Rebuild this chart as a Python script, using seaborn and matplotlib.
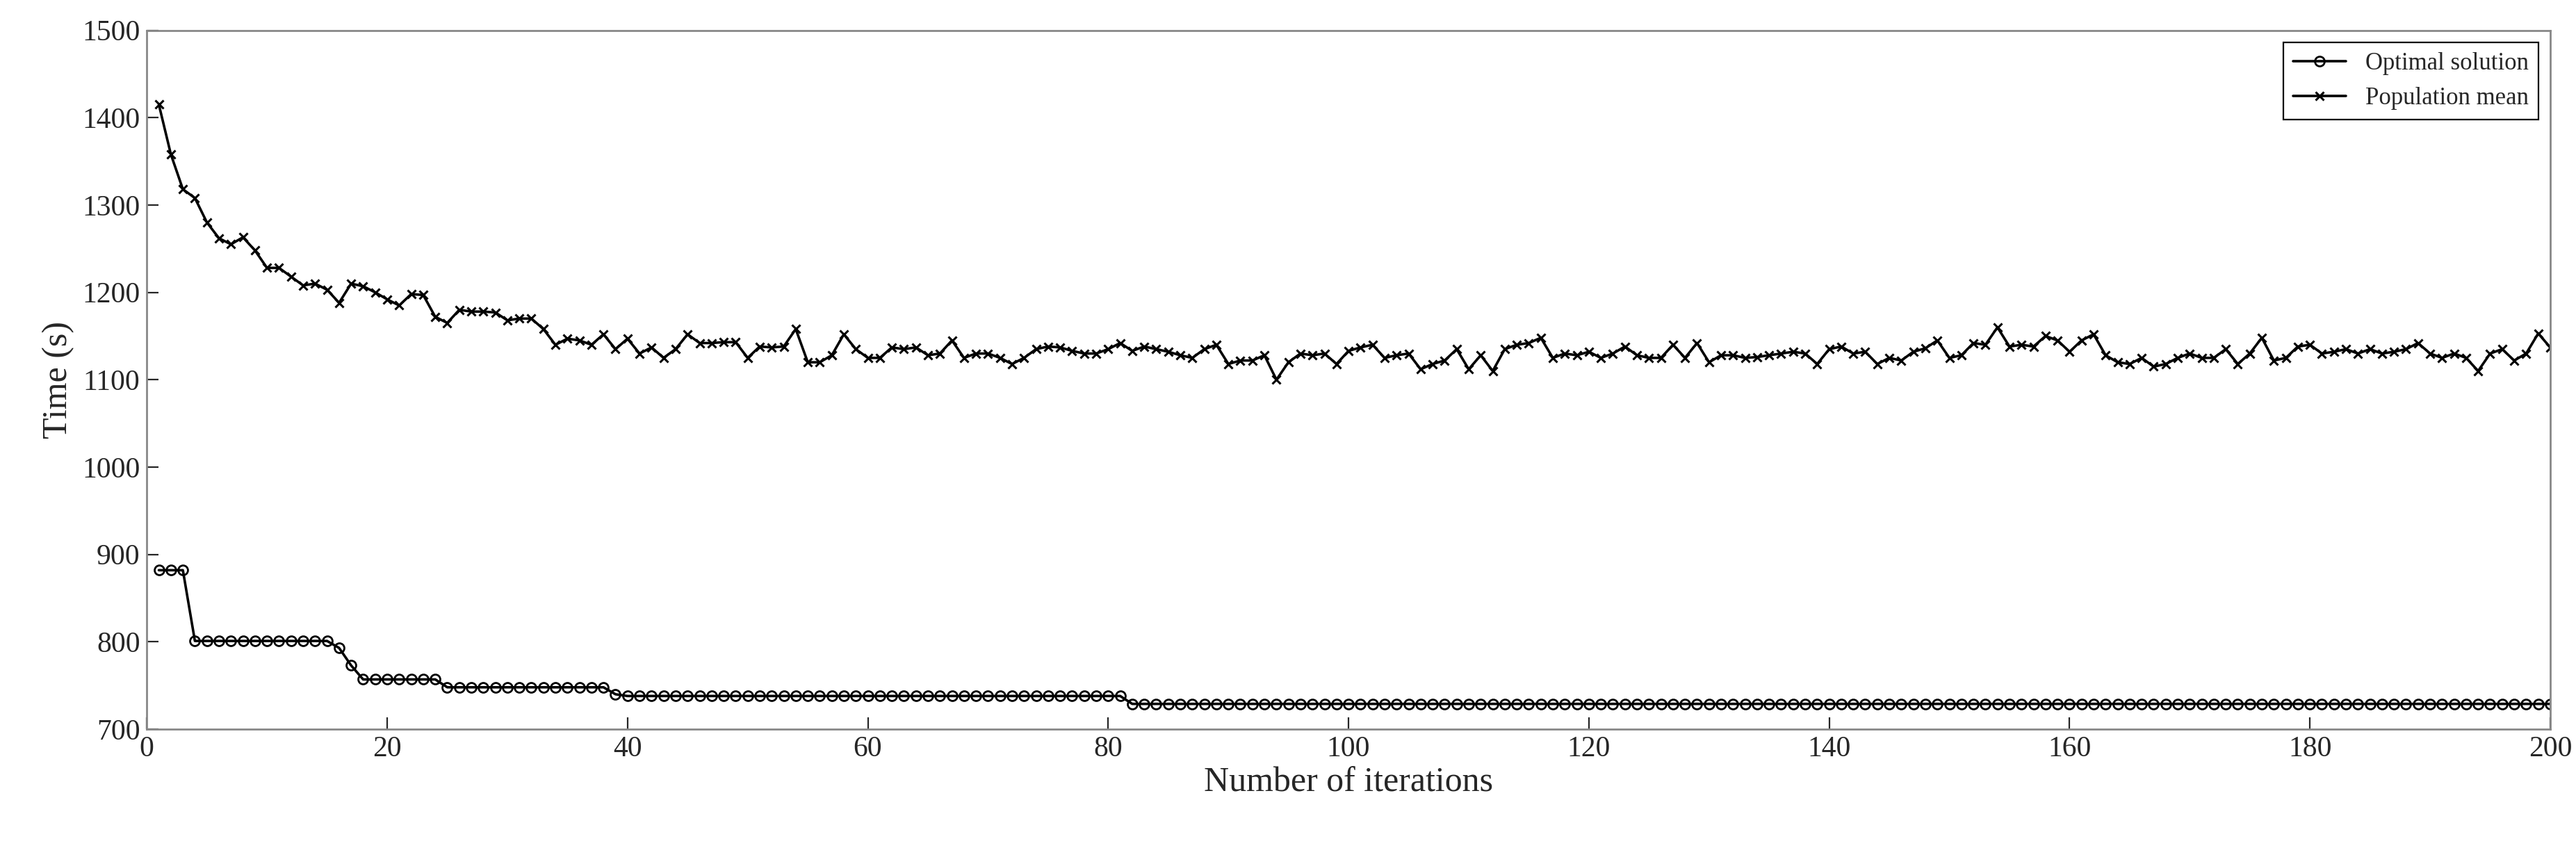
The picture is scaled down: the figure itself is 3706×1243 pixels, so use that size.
import numpy as np
import pandas as pd
import seaborn as sns
import matplotlib
matplotlib.use("Agg")
import matplotlib.pyplot as plt

iterations = list(range(1, 201))
optimal = [882]*3 + [801]*12 + [793, 773] + [757]*7 + [748]*14 + [740] + [738]*42 + [729]*119
population = [
1415,1358,1318,1308,1280,1262,1255,1263,1248,1228,1228,1218,1208,1210,1203,
1188,1210,1207,1200,1192,1185,1198,1197,1172,1165,1180,1178,1178,1177,1168,
1170,1170,1158,1140,1147,1145,1140,1152,1135,1147,1130,1137,1125,1135,1152,
1142,1142,1143,1143,1125,1138,1137,1138,1158,1120,1120,1128,1152,1135,1125,
1125,1137,1135,1137,1128,1130,1145,1125,1130,1130,1125,1118,1125,1135,1138,
1137,1133,1130,1130,1135,1142,1133,1138,1135,1132,1128,1125,1135,1140,1118,
1122,1122,1128,1100,1120,1130,1128,1130,1118,1133,1137,1140,1125,1128,1130,
1112,1118,1122,1135,1112,1128,1110,1135,1140,1142,1148,1125,1130,1128,1132,
1125,1130,1138,1128,1125,1125,1140,1125,1142,1120,1128,1128,1125,1126,1128,
1130,1132,1130,1118,1135,1138,1130,1132,1118,1125,1122,1132,1136,1145,1125,
1128,1142,1140,1160,1138,1140,1138,1150,1145,1132,1145,1152,1128,1120,1118,
1125,1115,1118,1125,1130,1125,1125,1135,1118,1130,1148,1122,1125,1138,1140,
1130,1132,1135,1130,1135,1130,1132,1135,1142,1130,1125,1130,1125,1110,1130,
1135,1122,1130,1153,1137]

sns.set_theme(style="ticks")
plt.rcParams['font.family'] = ['Liberation Serif', 'DejaVu Serif']

fig = plt.figure(figsize=(18.53, 6.215), dpi=200)
ax = fig.add_axes([0.057, 0.156, 0.933, 0.809])

sns.lineplot(x=iterations, y=optimal, ax=ax, color='black', lw=1.3, marker='o',
             markersize=5, markerfacecolor='none', markeredgecolor='black',
             markeredgewidth=1.0, label='Optimal solution')
sns.lineplot(x=iterations, y=population, ax=ax, color='black', lw=1.3, marker='x',
             markersize=4.5, markeredgecolor='black', markerfacecolor='black',
             markeredgewidth=1.1, label='Population mean')

ax.set_xlim(0, 200)
ax.set_ylim(700, 1500)
ax.set_xticks(range(0, 201, 20))
ax.set_yticks(range(700, 1501, 100))
ax.tick_params(direction='in', labelsize=15, length=6, width=0.8, top=False, right=False)
for s in ax.spines.values():
    s.set_color('#888888'); s.set_linewidth(1.0)
ax.set_xlabel('Number of iterations', fontsize=18, labelpad=2)
ax.set_ylabel('Time (s)', fontsize=18, labelpad=4)
leg = ax.legend(loc='upper right', fontsize=12.5, frameon=True, fancybox=False,
                edgecolor='black', framealpha=1, handlelength=2.2)
leg.get_frame().set_linewidth(0.8)
fig.savefig('out.png', dpi=200)
